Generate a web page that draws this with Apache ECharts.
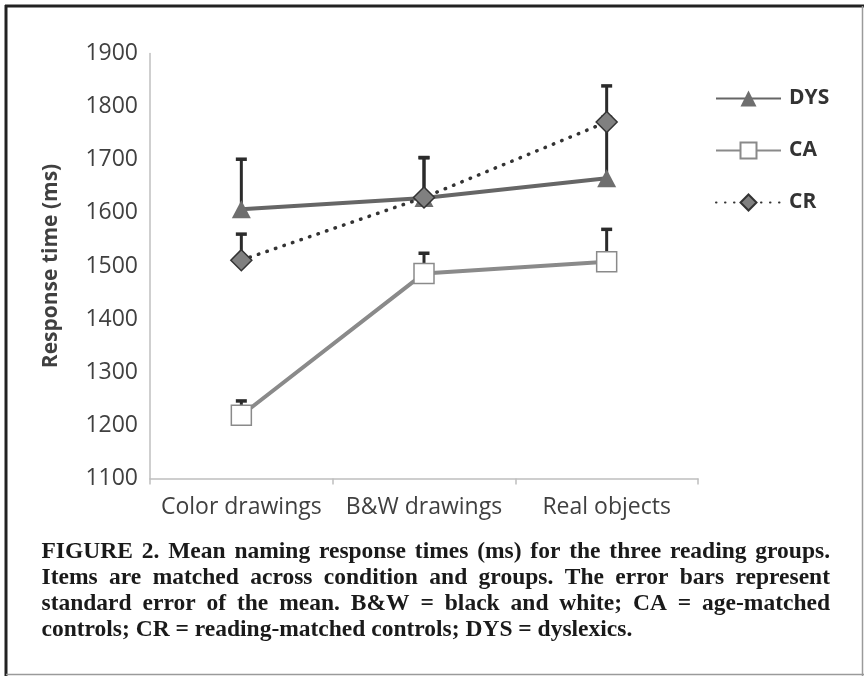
<!DOCTYPE html>
<html>
<head>
<meta charset="utf-8">
<script src="https://cdn.jsdelivr.net/npm/echarts@6/dist/echarts.min.js"></script>
<style>
html,body{margin:0;padding:0;background:#fff;}
#chart{width:864px;height:676px;}
</style>
</head>
<body>
<div id="chart"></div>
<script>
// ---- data ----
const categories = ['Color drawings', 'B&W drawings', 'Real objects'];
const dysMean = [1607, 1628, 1665];
const caMean = [1219, 1486, 1508];
const crMean = [1511, 1629, 1771];
const dysErrTop = [1701, 1704, 1780];
const caErrTop = [1246, 1524, 1569];
const crErrTop = [1560, 1704, 1839];
const yTicks = { min: 1100, max: 1900, interval: 100 };
const captionLines = [
  'FIGURE 2. Mean naming response times (ms) for the three reading groups.',
  'Items are matched across condition and groups. The error bars represent',
  'standard error of the mean. B&W = black and white; CA = age-matched',
  'controls; CR = reading-matched controls; DYS = dyslexics.'
];

const chart = echarts.init(document.getElementById('chart'), null, { renderer: 'canvas' });

function errData(means, tops) {
  return means.map((m, i) => [i, m, tops[i]]);
}
function errSeries(name, means, tops) {
  return {
    type: 'custom',
    name: name + ' err',
    z: 1,
    silent: true,
    data: errData(means, tops),
    encode: { x: 0, y: [1, 2] },
    renderItem: function (params, api) {
      const base = api.coord([api.value(0), api.value(1)]);
      const top = api.coord([api.value(0), api.value(2)]);
      const cap = 5.5;
      return {
        type: 'group',
        children: [
          { type: 'line', shape: { x1: base[0], y1: base[1], x2: top[0], y2: top[1] },
            style: { stroke: '#2b2b2b', lineWidth: 3 } },
          { type: 'line', shape: { x1: top[0] - cap, y1: top[1], x2: top[0] + cap, y2: top[1] },
            style: { stroke: '#2b2b2b', lineWidth: 3.5 } }
        ]
      };
    }
  };
}

// caption, justified
let capSize = 23.5;
const capLeft = 41.5, capRight = 830;
const capCenters = [552, 577.5, 604, 629.5];
const meas = document.createElement('canvas').getContext('2d');
function fontStr(s) { return '700 ' + s + 'px "Liberation Serif"'; }
meas.font = fontStr(capSize);
captionLines.slice(0, 3).forEach(line => {
  while (meas.measureText(line).width > (capRight - capLeft) && capSize > 10) {
    capSize -= 0.5;
    meas.font = fontStr(capSize);
  }
});
const capFont = fontStr(capSize);
meas.font = capFont;
const captionGraphics = [];
captionLines.forEach((line, li) => {
  const words = line.split(' ');
  const widths = words.map(w => meas.measureText(w).width);
  const total = widths.reduce((a, b) => a + b, 0);
  const last = li === captionLines.length - 1;
  const gap = last ? meas.measureText(' ').width : (capRight - capLeft - total) / (words.length - 1);
  let x = capLeft;
  words.forEach((w, wi) => {
    captionGraphics.push({
      type: 'text', x: x, y: capCenters[li],
      style: { text: w, font: capFont, fill: '#1a1a1a', verticalAlign: 'middle', align: 'left' },
      silent: true
    });
    x += widths[wi] + gap;
  });
});

const labelFont = '"Open Sans", "DejaVu Sans", sans-serif';

const option = {
  backgroundColor: '#ffffff',
  animation: false,
  grid: { left: 150, right: 166, top: 53.5, bottom: 197.5 },
  legend: {
    orient: 'vertical',
    left: 710,
    top: 83,
    itemWidth: 65,
    itemHeight: 20,
    itemGap: 31,
    data: ['DYS', 'CA', 'CR'],
    textStyle: { fontFamily: labelFont, fontWeight: 'bold', fontSize: 21, color: '#333333', padding: [0, 0, 0, 3] }
  },
  xAxis: {
    type: 'category',
    data: categories,
    boundaryGap: true,
    axisLine: { lineStyle: { color: '#bfbfbf', width: 1.5 } },
    axisTick: { show: true, length: 6, lineStyle: { color: '#bfbfbf', width: 1.5 } },
    axisLabel: { fontFamily: labelFont, fontSize: 23, color: '#404040', margin: 17, interval: 0 },
    splitLine: { show: false }
  },
  yAxis: {
    type: 'value',
    min: yTicks.min,
    max: yTicks.max,
    interval: yTicks.interval,
    name: 'Response time (ms)',
    nameLocation: 'middle',
    nameRotate: 90,
    nameGap: 88,
    nameTextStyle: { fontFamily: labelFont, fontWeight: 'bold', fontSize: 21, color: '#404040' },
    axisLine: { show: true, lineStyle: { color: '#bfbfbf', width: 1.5 } },
    axisTick: { show: false },
    axisLabel: { fontFamily: labelFont, fontSize: 23, color: '#404040', margin: 12, formatter: v => String(v) },
    splitLine: { show: false }
  },
  series: [
    errSeries('DYS', dysMean, dysErrTop),
    errSeries('CA', caMean, caErrTop),
    errSeries('CR', crMean, crErrTop),
    {
      name: 'DYS', type: 'line', z: 3, data: dysMean,
      symbol: 'triangle', symbolSize: [19, 18], showSymbol: true,
      lineStyle: { color: '#666666', width: 4 },
      itemStyle: { color: '#6e6e6e', borderWidth: 0 }
    },
    {
      name: 'CA', type: 'line', z: 3, data: caMean,
      symbol: 'rect', symbolSize: 20,
      lineStyle: { color: '#8a8a8a', width: 4 },
      itemStyle: { color: '#ffffff', borderColor: '#8a8a8a', borderWidth: 1.5 }
    },
    {
      name: 'CR', type: 'line', z: 4, data: crMean,
      symbol: 'diamond', symbolSize: 21,
      lineStyle: { color: '#333333', width: 3.5, type: [0.5, 8.5], cap: 'round' },
      itemStyle: { color: '#808080', borderColor: '#333333', borderWidth: 1.5 }
    }
  ],
  graphic: [
    { type: 'line', shape: { x1: 6, y1: 5, x2: 6, y2: 676 }, style: { stroke: '#222', lineWidth: 3 }, silent: true },
    { type: 'line', shape: { x1: 5, y1: 6, x2: 864, y2: 6 }, style: { stroke: '#222', lineWidth: 3 }, silent: true },
    { type: 'line', shape: { x1: 862.5, y1: 6, x2: 862.5, y2: 676 }, style: { stroke: '#9a9a9a', lineWidth: 1.5 }, silent: true },
    { type: 'line', shape: { x1: 6, y1: 674.5, x2: 864, y2: 674.5 }, style: { stroke: '#9a9a9a', lineWidth: 1.5 }, silent: true }
  ].concat(captionGraphics)
};
chart.setOption(option);
</script>
</body>
</html>
